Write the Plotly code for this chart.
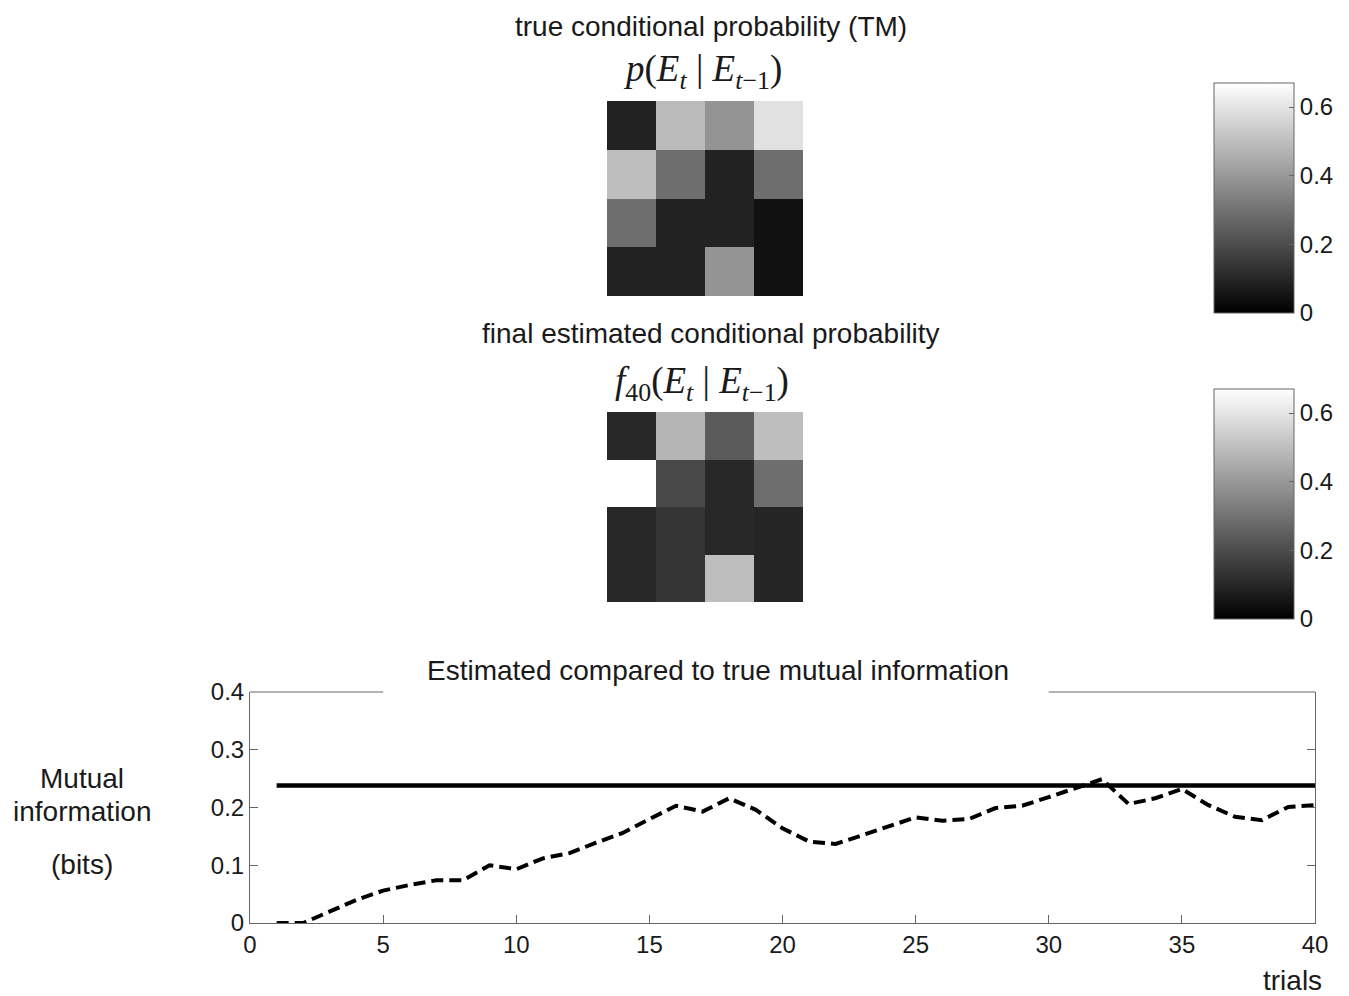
import plotly.graph_objects as go

# ---------------- data ----------------
states = [1, 2, 3, 4]
true_tm = [
    [0.09, 0.49, 0.39, 0.59],
    [0.50, 0.29, 0.09, 0.29],
    [0.29, 0.09, 0.09, 0.045],
    [0.09, 0.09, 0.39, 0.045],
]
est_tm = [
    [0.105, 0.475, 0.24, 0.50],
    [0.70, 0.19, 0.105, 0.29],
    [0.105, 0.14, 0.105, 0.097],
    [0.105, 0.14, 0.50, 0.097],
]
trials = list(range(1, 41))
est_mi = [0.0, 0.0, 0.02, 0.04, 0.056, 0.066, 0.074, 0.074, 0.10, 0.093,
          0.112, 0.121, 0.139, 0.156, 0.18, 0.203, 0.193, 0.216, 0.196, 0.164,
          0.141, 0.137, 0.152, 0.167, 0.183, 0.177, 0.18, 0.199, 0.203, 0.218,
          0.233, 0.249, 0.206, 0.216, 0.232, 0.204, 0.184, 0.178, 0.201, 0.204]
true_mi = [0.238] * 40
x_ticks = [0, 5, 10, 15, 20, 25, 30, 35, 40]
y_ticks = [0, 0.1, 0.2, 0.3, 0.4]
y_ticktext = ["0", "0.1", "0.2", "0.3", "0.4"]
cb_ticks = [0, 0.2, 0.4, 0.6]
cb_ticktext = ["0", "0.2", "0.4", "0.6"]

# page body has an 8px margin, so the figure starts at (8, 8) in the window
OFF = 8
W, H = 1349 - OFF, 996 - OFF
def px(x): return (x - OFF) / W
def py(y): return 1 - (y - OFF) / H

SANS = "Liberation Sans, Arial, sans-serif"
SERIF = "Liberation Serif, Times New Roman, serif"
AX = "#666666"
TXT = "#1a1a1a"
gray = [[0, "black"], [1, "white"]]
ZMAX = 0.67

fig = go.Figure()

def cbar(yc):
    return dict(x=px(1214), xanchor="left", y=yc, yanchor="middle",
                len=230 / H, lenmode="fraction", thickness=80, thicknessmode="pixels",
                outlinecolor=AX, outlinewidth=1, ticks="inside", ticklen=5,
                tickcolor=AX, tickvals=cb_ticks, ticktext=cb_ticktext,
                tickfont=dict(family=SANS, size=24, color=TXT), xpad=0, ypad=0)

fig.add_trace(go.Heatmap(z=true_tm, x=states, y=states, colorscale=gray,
                         zmin=0, zmax=ZMAX, xaxis="x", yaxis="y",
                         colorbar=cbar(py(198)), hoverinfo="z"))
fig.add_trace(go.Heatmap(z=est_tm, x=states, y=states, colorscale=gray,
                         zmin=0, zmax=ZMAX, xaxis="x2", yaxis="y2",
                         colorbar=cbar(py(504)), hoverinfo="z"))

fig.add_trace(go.Scatter(x=trials, y=true_mi, mode="lines",
                         line=dict(color="black", width=4.5),
                         xaxis="x3", yaxis="y3", showlegend=False))
fig.add_trace(go.Scatter(x=trials, y=est_mi, mode="lines",
                         line=dict(color="black", width=4, dash="12px,6px"),
                         xaxis="x3", yaxis="y3", showlegend=False))

hidden = dict(showticklabels=False, showgrid=False, zeroline=False, ticks="", showline=False)

fig.update_layout(
    width=W, height=H, margin=dict(l=0, r=0, t=0, b=0, pad=0, autoexpand=False),
    paper_bgcolor="white", plot_bgcolor="white", showlegend=False,
    xaxis=dict(domain=[px(607), px(803)], anchor="y", range=[0.5, 4.5], **hidden),
    yaxis=dict(domain=[py(296), py(101)], anchor="x", range=[4.5, 0.5], **hidden),
    xaxis2=dict(domain=[px(607), px(803)], anchor="y2", range=[0.5, 4.5], **hidden),
    yaxis2=dict(domain=[py(602), py(412)], anchor="x2", range=[4.5, 0.5], **hidden),
    xaxis3=dict(domain=[px(250), px(1315)], anchor="y3", range=[0, 40],
                tickvals=x_ticks, ticks="inside", ticklen=8, tickcolor=AX,
                showline=True, linecolor=AX, linewidth=1, showgrid=False, zeroline=False,
                automargin=False,
                tickfont=dict(family=SANS, size=24, color=TXT)),
    xaxis4=dict(domain=[px(250), px(1315)], anchor="y3", overlaying="x3", side="top",
                range=[0, 40], tickvals=x_ticks, ticks="inside", ticklen=8, tickcolor=AX,
                automargin=False,
                showticklabels=False, showline=False, showgrid=False, zeroline=False),
    yaxis3=dict(domain=[py(923), py(692)], anchor="x3", range=[0, 0.4],
                tickvals=y_ticks, ticktext=y_ticktext,
                ticks="inside", ticklen=8, tickcolor=AX, mirror="ticks",
                showline=True, linecolor=AX, linewidth=1, showgrid=False, zeroline=False,
                automargin=False,
                tickfont=dict(family=SANS, size=24, color=TXT)),
)

# top border segments (gap behind the title)
for a, b in [(0, 5), (30, 40)]:
    fig.add_shape(type="line", xref="x3", yref="y3 domain", x0=a, x1=b, y0=1, y1=1,
                  line=dict(color=AX, width=1))

def ann(text, x, y, size, family=SANS):
    fig.add_annotation(text=text, x=px(x), y=py(y), xref="paper", yref="paper",
                       xanchor="center", yanchor="middle", showarrow=False,
                       font=dict(family=family, size=size, color=TXT))

ann("true conditional probability (TM)", 711, 26, 28)
ann("<i>p</i>(<i>E</i><sub><i>t</i></sub> | <i>E</i><sub><i>t</i>−1</sub>)", 702, 72, 37, SERIF)
ann("final estimated conditional probability", 711, 333, 28)
ann("<i>f</i><sub>40</sub>(<i>E</i><sub><i>t</i></sub> | <i>E</i><sub><i>t</i>−1</sub>)", 702, 383, 37, SERIF)
ann("Estimated compared to true mutual information", 718, 670, 28)
ann("Mutual", 82, 778, 28)
ann("information", 82, 811, 28)
ann("(bits)", 82, 864, 28)
ann("trials", 1292, 980, 28)

fig.write_html("out.html")
